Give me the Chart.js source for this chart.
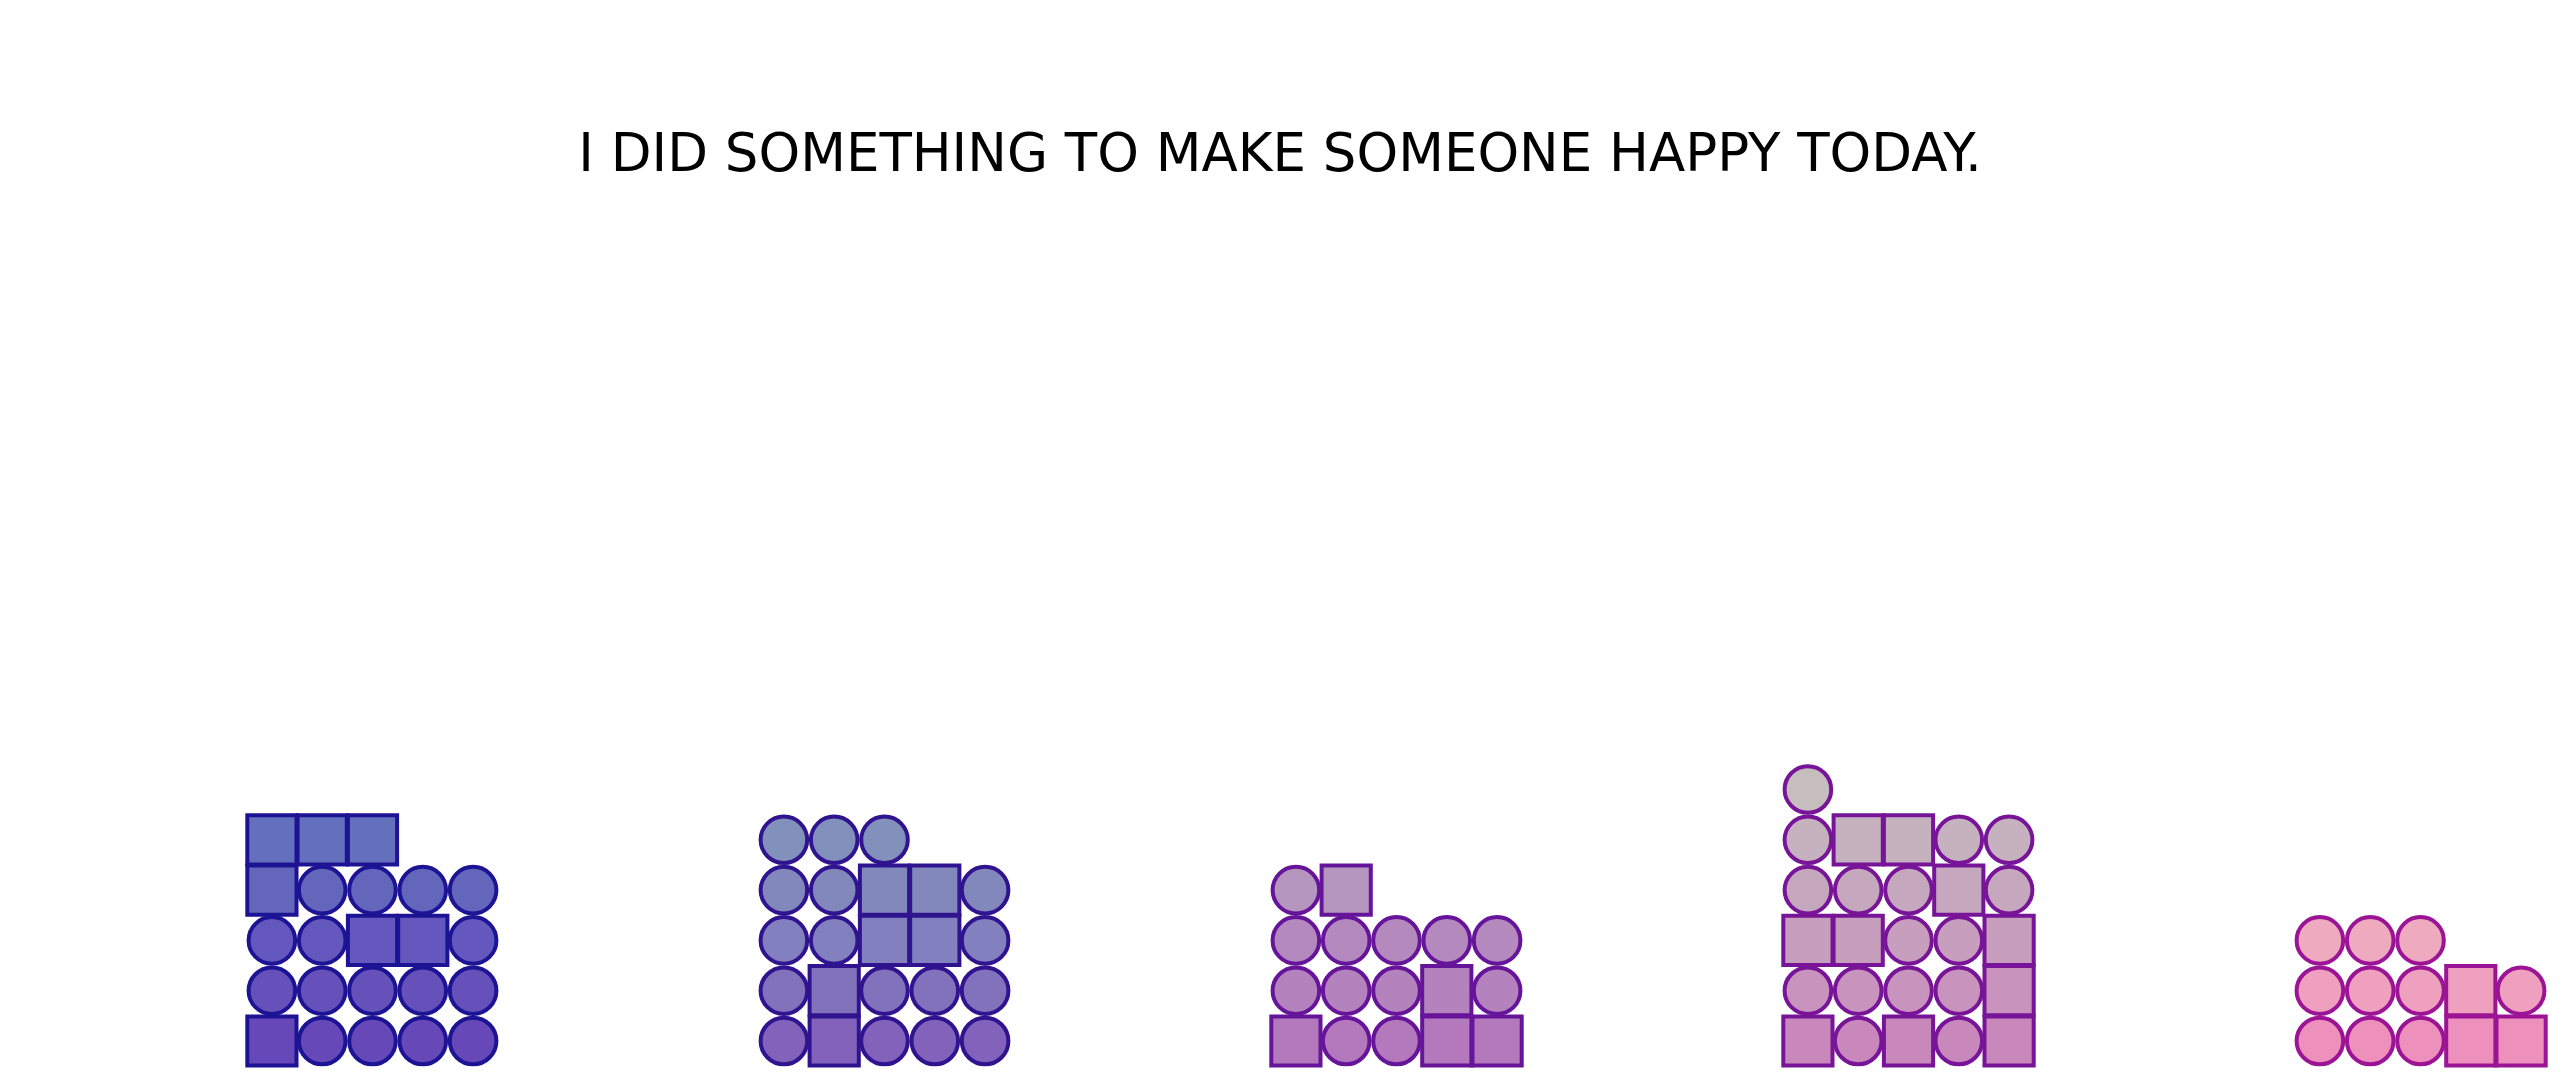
<!DOCTYPE html>
<html>
<head>
<meta charset="utf-8">
<script src="https://cdn.jsdelivr.net/npm/chart.js@4.4.1/dist/chart.umd.min.js"></script>
<style>
  html, body { margin: 0; padding: 0; background: #ffffff; }
  #wrap { width: 2560px; height: 1080px; position: relative; }
</style>
</head>
<body>
<div id="wrap"><canvas id="c"></canvas></div>
<script>
// ---- data ----
const titleText = 'I DID SOMETHING TO MAKE SOMEONE HAPPY TODAY.';
const categories = ['1', '2', '3', '4', '5'];
// unit shapes per category, filled bottom-left to right, row by row (S = square, C = circle)
const group1 = ['S','C','C','C','C', 'C','C','C','C','C', 'C','C','S','S','C', 'S','C','C','C','C', 'S','S','S'];
const group2 = ['C','S','C','C','C', 'C','S','C','C','C', 'C','C','S','S','C', 'C','C','S','S','C', 'C','C','C'];
const group3 = ['S','C','C','S','S', 'C','C','C','S','C', 'C','C','C','C','C', 'C','S'];
const group4 = ['S','C','S','C','S', 'C','C','C','C','S', 'S','S','C','C','S', 'C','C','C','S','C', 'C','S','S','C','C', 'C'];
const group5 = ['C','C','C','S','S', 'C','C','C','S','C', 'C','C','C'];
const groups = [group1, group2, group3, group4, group5];
const perRow = 5;

// ---- styles ----
const rowFills = [
  ['#6648b8', '#6650ba', '#6458be', '#6466bc', '#6470be'],
  ['#8262ba', '#8272bc', '#8280be', '#8288bc', '#8290bc'],
  ['#b478bc', '#b482bc', '#b48abe', '#b496be'],
  ['#c888bc', '#c894be', '#c89ebe', '#c6a8be', '#c6b2be', '#c6bebe'],
  ['#ee90bc', '#eea0be', '#eeaabe']
];
const strokes = ['#1c1494', '#30148f', '#661499', '#781498', '#9c1496'];
const cellW = 50.3 / 512;       // width of one unit in category units
const circleR = 23.3;
const squareR = 24.6 / Math.SQRT1_2;
const borderW = 4;
const titleSize = 53, titleLH = 1.25, titlePadTop = 124;

const datasets = groups.map((units, g) => {
  const pts = units.map((s, i) => {
    const col = i % perRow, row = Math.floor(i / perRow);
    return { x: g + (col - 2) * cellW, y: row };
  });
  return {
    label: categories[g],
    data: pts,
    pointStyle: units.map(s => s === 'S' ? 'rect' : 'circle'),
    pointRadius: units.map(s => s === 'S' ? squareR : circleR),
    pointHoverRadius: units.map(s => s === 'S' ? squareR : circleR),
    backgroundColor: units.map((s, i) => rowFills[g][Math.floor(i / perRow)]),
    borderColor: strokes[g],
    pointBorderWidth: borderW,
    pointHoverBorderWidth: borderW,
    showLine: false,
    clip: false
  };
});

const pitchY = 50.3;
const areaTop = titlePadTop + titleSize * titleLH;
const yMin = -(1080 - 1041) / pitchY;
const yMax = yMin + (1080 - areaTop) / pitchY;
new Chart(document.getElementById('c'), {
  type: 'scatter',
  data: { datasets },
  options: {
    responsive: true,
    maintainAspectRatio: false,
    animation: false,
    layout: { padding: 0, autoPadding: false },
    plugins: {
      legend: { display: false },
      tooltip: { enabled: false },
      title: {
        display: true,
        text: titleText,
        color: '#000000',
        font: { family: 'DejaVu Sans', size: titleSize, weight: 'normal', lineHeight: titleLH },
        padding: { top: titlePadTop, bottom: 0 }
      }
    },
    scales: {
      x: { type: 'linear', display: false, min: -372.5 / 512, max: (2560 - 372.5) / 512 },
      y: { type: 'linear', display: false, min: yMin, max: yMax }
    }
  }
});
</script>
</body>
</html>
